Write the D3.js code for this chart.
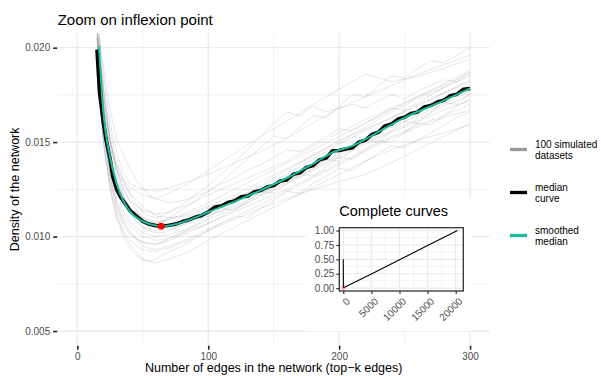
<!DOCTYPE html>
<html>
<head>
<meta charset="utf-8">
<style>
    body { margin: 0; background: white; }
    svg { font-family: "Liberation Sans", Arial, sans-serif; background: white; }
    .grid-major { stroke: #ebebeb; stroke-width: 1.4px; fill: none; }
    .grid-minor { stroke: #ebebeb; stroke-width: 0.8px; fill: none; }
    .tick-lab { fill: #4d4d4d; font-size: 10px; }
</style>
<script src="https://d3js.org/d3.v7.min.js"></script>
</head>
<body>
<div id="chart"></div>
<script>
// ---- data ----
var simX = [15, 20, 25, 30, 35, 40, 50, 60, 70, 85, 100, 120, 140, 160, 180, 200, 220, 240, 260, 280, 300];

// 100 simulated datasets -> a sample of representative curves, density values
var sim01 = [0.0190, 0.0150, 0.0128, 0.0113, 0.0102, 0.0096, 0.0088, 0.0086, 0.0088, 0.0092, 0.0098, 0.0105, 0.0112, 0.0119, 0.0126, 0.0133, 0.0140, 0.0146, 0.0151, 0.0155, 0.0159];
var sim02 = [0.0215, 0.0185, 0.0160, 0.0145, 0.0134, 0.0128, 0.0125, 0.0124, 0.0126, 0.0129, 0.0133, 0.0139, 0.0145, 0.0152, 0.0160, 0.0168, 0.0174, 0.0180, 0.0186, 0.0191, 0.0196];
var sim03 = [0.0205, 0.0168, 0.0146, 0.0130, 0.0122, 0.0116, 0.0110, 0.0108, 0.0109, 0.0112, 0.0116, 0.0122, 0.0129, 0.0136, 0.0143, 0.0151, 0.0157, 0.0163, 0.0170, 0.0176, 0.0182];
var sim04 = [0.0195, 0.0155, 0.0135, 0.0120, 0.0111, 0.0106, 0.0100, 0.0098, 0.0099, 0.0103, 0.0107, 0.0113, 0.0119, 0.0125, 0.0132, 0.0139, 0.0146, 0.0153, 0.0159, 0.0164, 0.0170];
var sim05 = [0.0220, 0.0178, 0.0152, 0.0136, 0.0125, 0.0119, 0.0114, 0.0112, 0.0113, 0.0117, 0.0122, 0.0128, 0.0134, 0.0140, 0.0148, 0.0155, 0.0162, 0.0168, 0.0174, 0.0181, 0.0188];
var sim06 = [0.0198, 0.0158, 0.0132, 0.0117, 0.0108, 0.0102, 0.0095, 0.0093, 0.0095, 0.0099, 0.0104, 0.0110, 0.0117, 0.0124, 0.0131, 0.0138, 0.0145, 0.0152, 0.0158, 0.0163, 0.0167];
var sim07 = [0.0208, 0.0170, 0.0148, 0.0135, 0.0129, 0.0123, 0.0116, 0.0111, 0.0110, 0.0111, 0.0115, 0.0120, 0.0127, 0.0135, 0.0143, 0.0150, 0.0158, 0.0166, 0.0173, 0.0179, 0.0185];
var sim08 = [0.0192, 0.0152, 0.0130, 0.0115, 0.0106, 0.0101, 0.0097, 0.0096, 0.0098, 0.0102, 0.0107, 0.0114, 0.0122, 0.0129, 0.0136, 0.0143, 0.0150, 0.0156, 0.0162, 0.0169, 0.0175];
var sim09 = [0.0210, 0.0175, 0.0150, 0.0138, 0.0130, 0.0126, 0.0122, 0.0120, 0.0123, 0.0128, 0.0135, 0.0144, 0.0153, 0.0161, 0.0170, 0.0178, 0.0186, 0.0182, 0.0185, 0.0189, 0.0194];
var sim10 = [0.0188, 0.0148, 0.0125, 0.0110, 0.0103, 0.0098, 0.0093, 0.0092, 0.0094, 0.0098, 0.0103, 0.0109, 0.0115, 0.0120, 0.0125, 0.0129, 0.0133, 0.0139, 0.0146, 0.0153, 0.0160];
var sim11 = [0.0202, 0.0163, 0.0142, 0.0128, 0.0119, 0.0112, 0.0105, 0.0103, 0.0104, 0.0107, 0.0111, 0.0116, 0.0123, 0.0130, 0.0137, 0.0144, 0.0151, 0.0158, 0.0164, 0.0170, 0.0177];
var sim12 = [0.0212, 0.0173, 0.0151, 0.0133, 0.0122, 0.0115, 0.0108, 0.0105, 0.0106, 0.0110, 0.0114, 0.0120, 0.0126, 0.0133, 0.0141, 0.0149, 0.0156, 0.0163, 0.0169, 0.0176, 0.0183];
var sim13 = [0.0194, 0.0156, 0.0138, 0.0124, 0.0114, 0.0108, 0.0102, 0.0100, 0.0101, 0.0104, 0.0109, 0.0115, 0.0121, 0.0128, 0.0135, 0.0142, 0.0149, 0.0155, 0.0161, 0.0167, 0.0172];
var sim14 = [0.0206, 0.0166, 0.0144, 0.0129, 0.0120, 0.0114, 0.0109, 0.0107, 0.0109, 0.0113, 0.0118, 0.0125, 0.0132, 0.0139, 0.0146, 0.0153, 0.0160, 0.0167, 0.0174, 0.0180, 0.0187];

// a few more simulated curves read at a finer step (with their saw-tooth drops)
var simX2 = [15, 18, 22, 26, 30, 35, 40, 45, 50, 55, 60, 65, 70, 80, 90, 100, 110, 120, 130, 140, 150, 160, 170, 180, 190, 200, 210, 220, 230, 240, 250, 260, 270, 280, 290, 300];
var sim15 = [0.0220, 0.0200, 0.0180, 0.0164, 0.0152, 0.0143, 0.0136, 0.0130, 0.0126, 0.0122, 0.0120, 0.0119, 0.0118, 0.0119, 0.0121, 0.0124, 0.0128, 0.0131, 0.0135, 0.0138, 0.0142, 0.0146, 0.0145, 0.0149, 0.0153, 0.0157, 0.0156, 0.0160, 0.0164, 0.0168, 0.0167, 0.0171, 0.0175, 0.0179, 0.0183, 0.0187];
var sim16 = [0.0190, 0.0165, 0.0140, 0.0122, 0.0110, 0.0100, 0.0094, 0.0090, 0.0088, 0.0087, 0.0088, 0.0090, 0.0092, 0.0095, 0.0099, 0.0103, 0.0107, 0.0111, 0.0110, 0.0115, 0.0119, 0.0124, 0.0123, 0.0128, 0.0132, 0.0136, 0.0135, 0.0140, 0.0144, 0.0148, 0.0147, 0.0151, 0.0155, 0.0159, 0.0163, 0.0166];
var sim17 = [0.0205, 0.0182, 0.0158, 0.0140, 0.0129, 0.0120, 0.0113, 0.0108, 0.0105, 0.0103, 0.0102, 0.0102, 0.0103, 0.0106, 0.0110, 0.0114, 0.0113, 0.0118, 0.0123, 0.0122, 0.0127, 0.0132, 0.0131, 0.0136, 0.0141, 0.0140, 0.0146, 0.0151, 0.0150, 0.0156, 0.0161, 0.0160, 0.0166, 0.0171, 0.0170, 0.0176];
var sim18 = [0.0210, 0.0188, 0.0165, 0.0148, 0.0136, 0.0126, 0.0119, 0.0114, 0.0110, 0.0108, 0.0107, 0.0108, 0.0110, 0.0114, 0.0119, 0.0124, 0.0129, 0.0135, 0.0141, 0.0147, 0.0153, 0.0152, 0.0158, 0.0164, 0.0163, 0.0169, 0.0175, 0.0174, 0.0180, 0.0185, 0.0184, 0.0189, 0.0193, 0.0192, 0.0196, 0.0200];
var sim19 = [0.0196, 0.0170, 0.0146, 0.0129, 0.0118, 0.0109, 0.0103, 0.0099, 0.0097, 0.0096, 0.0096, 0.0097, 0.0099, 0.0102, 0.0106, 0.0110, 0.0115, 0.0114, 0.0119, 0.0124, 0.0123, 0.0128, 0.0133, 0.0132, 0.0137, 0.0142, 0.0141, 0.0146, 0.0151, 0.0150, 0.0155, 0.0160, 0.0159, 0.0164, 0.0169, 0.0173];
var sim20 = [0.0208, 0.0190, 0.0170, 0.0153, 0.0140, 0.0130, 0.0123, 0.0117, 0.0113, 0.0111, 0.0110, 0.0111, 0.0113, 0.0117, 0.0122, 0.0127, 0.0133, 0.0139, 0.0146, 0.0153, 0.0160, 0.0166, 0.0164, 0.0169, 0.0166, 0.0168, 0.0170, 0.0168, 0.0172, 0.0175, 0.0173, 0.0177, 0.0180, 0.0183, 0.0182, 0.0186];

var simCurves = [sim01, sim02, sim03, sim04, sim05, sim06, sim07, sim08, sim09, sim10, sim11, sim12, sim13, sim14];
var simCurves2 = [sim15, sim16, sim17, sim18, sim19, sim20];

// median curve
var medX = [15, 17, 20, 22, 25, 27, 30, 33, 36, 40, 45, 50, 55, 60, 65, 70, 75, 80, 85, 90, 95,
            100, 105, 110, 115, 120, 125, 130, 135, 140, 145, 150, 155, 160, 165, 170, 175, 180, 185, 190, 195,
            200, 205, 210, 215, 220, 225, 230, 235, 240, 245, 250, 255, 260, 265, 270, 275, 280, 285, 290, 295, 300];
var medY = [0.0199, 0.0176, 0.0160, 0.0151, 0.0141, 0.0132, 0.0125, 0.0121, 0.0118, 0.0114, 0.0111, 0.0108, 0.01065, 0.01058, 0.01055, 0.01060, 0.01066, 0.01078, 0.01088, 0.01102, 0.01112,
            0.01130, 0.01156, 0.01162, 0.01180, 0.01188, 0.01210, 0.01214, 0.01236, 0.01244, 0.01262, 0.01270, 0.01294, 0.01300, 0.01330, 0.01338, 0.01366, 0.01376, 0.01406, 0.01416, 0.01454,
            0.01456, 0.01464, 0.01470, 0.01500, 0.01510, 0.01540, 0.01552, 0.01586, 0.01596, 0.01622, 0.01632, 0.01652, 0.01660, 0.01686, 0.01694, 0.01712, 0.01722, 0.01746, 0.01754, 0.01780, 0.01784];

// smoothed median
var smoothX = [16.5, 20, 25, 30, 35, 40, 50, 60, 65, 70, 80, 90, 100, 120, 140, 160, 180, 195, 210, 225, 250, 275, 300];
var smoothY = [0.0201, 0.0165, 0.0142, 0.0128, 0.0119, 0.01135, 0.0108, 0.01058, 0.01055, 0.01058, 0.01075, 0.0110, 0.0113, 0.01185, 0.01245, 0.0131, 0.01385, 0.01445, 0.0148, 0.01535, 0.0163, 0.01705, 0.01785];

// inflexion point
var inflexX = 64, inflexY = 0.01055;

// inset: complete curves
var insetX = [1, 15, 64, 300, 5000, 10000, 15000, 20300];
var insetY = [0.5, 0.02, 0.0106, 0.0178, 0.2463, 0.4926, 0.7389, 1.0];

var xTicks = [0, 100, 200, 300], xMinor = [50, 150, 250];
var yTicks = [0.005, 0.010, 0.015, 0.020], yMinor = [0.0075, 0.0125, 0.0175];
var inXTicks = [0, 5000, 10000, 15000, 20000], inXMinor = [2500, 7500, 12500, 17500];
var inYTicks = [0, 0.25, 0.5, 0.75, 1], inYMinor = [0.125, 0.375, 0.625, 0.875];

var legendLabels = [["100 simulated", "datasets"], ["median", "curve"], ["smoothed", "median"]];
var legendColors = ["#999999", "#000000", "#1abc9c"];

// ---- layout ----
var W = 601, H = 376;
var svg = d3.select("#chart").append("svg").attr("width", W).attr("height", H);

var x = d3.scaleLinear().domain([-15, 315]).range([57.7, 489.7]);
var y = d3.scaleLinear().domain([0.00425, 0.02075]).range([345.2, 33.5]);

// grid
svg.append("g").selectAll("line").data(xMinor).join("line").attr("class", "grid-minor")
    .attr("x1", x).attr("x2", x).attr("y1", y.range()[1]).attr("y2", y.range()[0]);
svg.append("g").selectAll("line").data(yMinor).join("line").attr("class", "grid-minor")
    .attr("y1", y).attr("y2", y).attr("x1", x.range()[0]).attr("x2", x.range()[1]);
svg.append("g").selectAll("line").data(xTicks).join("line").attr("class", "grid-major")
    .attr("x1", x).attr("x2", x).attr("y1", y.range()[1]).attr("y2", y.range()[0]);
svg.append("g").selectAll("line").data(yTicks).join("line").attr("class", "grid-major")
    .attr("y1", y).attr("y2", y).attr("x1", x.range()[0]).attr("x2", x.range()[1]);

// axes
var xAxis = svg.append("g").attr("transform", "translate(0," + (y.range()[0] + 0.5) + ")")
    .call(d3.axisBottom(x).tickValues(xTicks).tickSize(4).tickPadding(3).tickFormat(d3.format("d")));
var yAxis = svg.append("g").attr("transform", "translate(" + (x.range()[0] - 0.5) + ",0)")
    .call(d3.axisLeft(y).tickValues(yTicks).tickSize(4).tickPadding(3).tickFormat(d3.format(".3f")));
[xAxis, yAxis].forEach(function (a) {
    a.select(".domain").remove();
    a.selectAll(".tick line").attr("stroke", "#222").attr("stroke-width", 1.6);
    a.selectAll(".tick text").attr("class", "tick-lab").attr("font-family", null).attr("font-size", null);
});

// clip
svg.append("defs").append("clipPath").attr("id", "clip")
    .append("rect").attr("x", x.range()[0]).attr("y", y.range()[1])
    .attr("width", x.range()[1] - x.range()[0]).attr("height", y.range()[0] - y.range()[1]);

var plot = svg.append("g").attr("clip-path", "url(#clip)");

var simLine = d3.line().x(function (d, i) { return x(simX[i]); }).y(function (d) { return y(d); });
var simLine2 = d3.line().x(function (d, i) { return x(simX2[i]); }).y(function (d) { return y(d); });
plot.append("g").selectAll("path").data(simCurves).join("path")
    .attr("d", simLine).attr("fill", "none").attr("stroke", "#000")
    .attr("stroke-opacity", 0.2).attr("stroke-width", 0.5);
plot.append("g").selectAll("path").data(simCurves2).join("path")
    .attr("d", simLine2).attr("fill", "none").attr("stroke", "#000")
    .attr("stroke-opacity", 0.2).attr("stroke-width", 0.5);

var medLine = d3.line().x(function (d, i) { return x(medX[i]); }).y(function (d) { return y(d); });
plot.append("path").datum(medY).attr("d", medLine)
    .attr("fill", "none").attr("stroke", "#000").attr("stroke-width", 3.6).attr("stroke-linejoin", "round");

var smLine = d3.line().x(function (d, i) { return x(smoothX[i]); }).y(function (d) { return y(d); })
    .curve(d3.curveMonotoneX);
plot.append("path").datum(smoothY).attr("d", smLine)
    .attr("fill", "none").attr("stroke", legendColors[2]).attr("stroke-width", 2);

plot.append("circle").attr("cx", x(inflexX)).attr("cy", y(inflexY)).attr("r", 3.4).attr("fill", "#ff0000");

// titles
svg.append("text").attr("x", x.range()[0]).attr("y", 25).attr("font-size", "15px").attr("fill", "#000")
    .text("Zoom on inflexion point");
svg.append("text").attr("x", (x.range()[0] + x.range()[1]) / 2).attr("y", 372)
    .attr("text-anchor", "middle").attr("font-size", "12.5px").attr("fill", "#000")
    .text("Number of edges in the network (top\u2212k edges)");
svg.append("text").attr("transform", "translate(19," + ((y.range()[0] + y.range()[1]) / 2) + ") rotate(-90)")
    .attr("text-anchor", "middle").attr("font-size", "12.5px").attr("fill", "#000")
    .text("Density of the network");

// legend
var leg = svg.append("g").selectAll("g").data(legendLabels).join("g")
    .attr("transform", function (d, i) { return "translate(510," + (149.5 + i * 43) + ")"; });
leg.append("line").attr("x1", 0).attr("x2", 17).attr("y1", 0).attr("y2", 0)
    .attr("stroke", function (d, i) { return legendColors[i]; }).attr("stroke-width", 3.3);
leg.append("text").attr("x", 25).attr("y", -1.5).attr("font-size", "10px").attr("fill", "#000")
    .selectAll("tspan").data(function (d) { return d; }).join("tspan")
    .attr("x", 25).attr("dy", function (d, i) { return i === 0 ? 0 : 10.5; }).text(function (d) { return d; });

// ---- inset ----
var inset = svg.append("g");
inset.append("rect").attr("x", 306).attr("y", 198).attr("width", 165).attr("height", 133).attr("fill", "white");

var ix = d3.scaleLinear().domain([-710, 21350]).range([339.3, 463.3]);
var iy = d3.scaleLinear().domain([-0.05, 1.05]).range([291, 227.7]);

inset.append("g").selectAll("line").data(inXMinor).join("line").attr("stroke", "#ebebeb").attr("stroke-width", 0.6)
    .attr("x1", ix).attr("x2", ix).attr("y1", iy.range()[1]).attr("y2", iy.range()[0]);
inset.append("g").selectAll("line").data(inYMinor).join("line").attr("stroke", "#ebebeb").attr("stroke-width", 0.6)
    .attr("y1", iy).attr("y2", iy).attr("x1", ix.range()[0]).attr("x2", ix.range()[1]);
inset.append("g").selectAll("line").data(inXTicks).join("line").attr("stroke", "#ebebeb").attr("stroke-width", 1.2)
    .attr("x1", ix).attr("x2", ix).attr("y1", iy.range()[1]).attr("y2", iy.range()[0]);
inset.append("g").selectAll("line").data(inYTicks).join("line").attr("stroke", "#ebebeb").attr("stroke-width", 1.2)
    .attr("y1", iy).attr("y2", iy).attr("x1", ix.range()[0]).attr("x2", ix.range()[1]);

var inLine = d3.line().x(function (d, i) { return ix(insetX[i]); }).y(function (d) { return iy(d); });
inset.append("path").datum(insetY).attr("d", inLine).attr("fill", "none")
    .attr("stroke", "#000").attr("stroke-width", 1.1);
inset.append("circle").attr("cx", ix(inflexX)).attr("cy", iy(inflexY)).attr("r", 2.5)
    .attr("fill", "#ff0000").attr("fill-opacity", 0.25);

inset.append("rect").attr("x", ix.range()[0]).attr("y", iy.range()[1])
    .attr("width", ix.range()[1] - ix.range()[0]).attr("height", iy.range()[0] - iy.range()[1])
    .attr("fill", "none").attr("stroke", "#333").attr("stroke-width", 1.3);

var ixAxis = inset.append("g").attr("transform", "translate(0," + iy.range()[0] + ")")
    .call(d3.axisBottom(ix).tickValues(inXTicks).tickSize(3).tickFormat(d3.format("d")));
ixAxis.selectAll(".tick text").attr("transform", "translate(2,6) rotate(-45)").attr("text-anchor", "end")
    .attr("dx", 0).attr("dy", "0.7em").attr("y", 0).attr("x", 0);
var iyAxis = inset.append("g").attr("transform", "translate(" + ix.range()[0] + ",0)")
    .call(d3.axisLeft(iy).tickValues(inYTicks).tickSize(3).tickPadding(2).tickFormat(d3.format(".2f")));
[ixAxis, iyAxis].forEach(function (a) {
    a.select(".domain").remove();
    a.selectAll(".tick line").attr("stroke", "#333").attr("stroke-width", 1.2);
    a.selectAll(".tick text").attr("class", "tick-lab").attr("font-family", null).attr("font-size", null);
});

inset.append("text").attr("x", ix.range()[0]).attr("y", 216).attr("font-size", "14.5px").attr("fill", "#000")
    .text("Complete curves");
</script>
</body>
</html>
